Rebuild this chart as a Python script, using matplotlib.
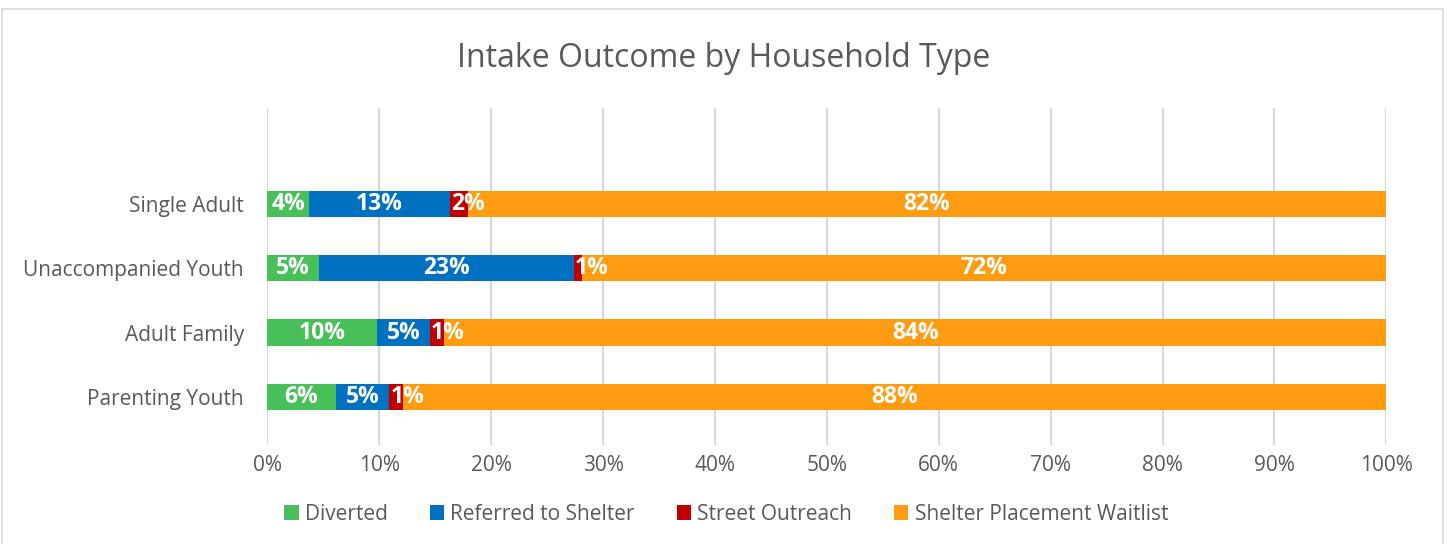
import matplotlib.pyplot as plt
from matplotlib.patches import Rectangle

# data (percent of intakes), bottom row first
categories = ["Parenting Youth", "Adult Family", "Unaccompanied Youth", "Single Adult"]
series_names = ["Diverted", "Referred to Shelter", "Street Outreach", "Shelter Placement Waitlist"]
diverted = [6.1, 9.8, 4.6, 3.7]
referred = [4.8, 4.7, 22.8, 12.6]
street = [1.2, 1.3, 0.7, 1.6]
waitlist = [87.9, 84.2, 71.9, 82.1]
xticks = [0, 10, 20, 30, 40, 50, 60, 70, 80, 90, 100]

colors = ["#47C05A", "#0070C0", "#C00000", "#FF9C12"]
FONT = ["Open Sans", "DejaVu Sans"]
plt.rcParams["font.family"] = FONT

fig = plt.figure(figsize=(14.47, 5.44), dpi=100)
ax = fig.add_axes([0.1848, 0.182, 0.7733, 0.619])

# chart border
fig.patches.append(Rectangle((0.0015, -0.05), 0.996, 1.033, transform=fig.transFigure,
                             fill=False, edgecolor="#D9D9D9", linewidth=1.2))

y = list(range(len(categories)))
left = [0.0] * len(categories)
for name, vals, col in zip(series_names, [diverted, referred, street, waitlist], colors):
    ax.barh(y, vals, left=left, height=0.41, color=col, label=name, zorder=3)
    for i, v in enumerate(vals):
        if name == "Street Outreach":
            ax.text(left[i] + 0.1, y[i], f"{v:.0f}%", ha="left", va="center",
                    color="white", fontsize=16.5, fontweight="bold", zorder=4)
        else:
            ax.text(left[i] + v / 2, y[i], f"{v:.0f}%", ha="center", va="center",
                    color="white", fontsize=16.5, fontweight="bold", zorder=4)
    left = [l + v for l, v in zip(left, vals)]

ax.set_xlim(0, 100)
ax.set_ylim(-0.75, 4.49)
ax.set_xticks(xticks)
ax.set_xticklabels([f"{t}%" for t in xticks])
ax.set_yticks(y)
ax.set_yticklabels(categories)
ax.tick_params(axis="both", length=0, labelsize=15, colors="#595959")
ax.tick_params(axis="y", pad=17)
ax.tick_params(axis="x", pad=7)
ax.grid(axis="x", color="#D9D9D9", linewidth=1.6, zorder=0)
for s in ax.spines.values():
    s.set_visible(False)

fig.text(0.5, 0.893, "Intake Outcome by Household Type", ha="center", va="center",
         fontsize=23, color="#595959")

ax.legend(loc="center", bbox_to_anchor=(0.41, -0.205), ncol=4, frameon=False,
          fontsize=15, handlelength=0.7, handleheight=0.7, handletextpad=0.3,
          columnspacing=2.0, labelcolor="#595959")

fig.savefig("out.png", dpi=100)
